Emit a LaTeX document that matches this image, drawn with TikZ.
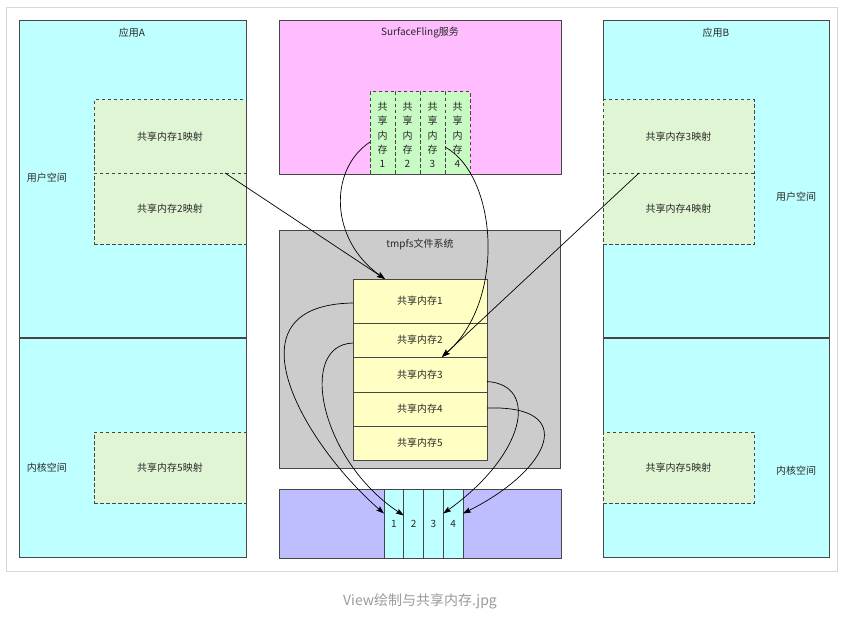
\documentclass[tikz,border=0pt]{standalone}
\usepackage{fontspec}
\setmainfont{Noto Sans CJK SC}
\usetikzlibrary{arrows.meta,calc}
\definecolor{appc}{RGB}{190,255,255}
\definecolor{pinkc}{RGB}{255,188,255}
\definecolor{grayc}{RGB}{204,204,204}
\definecolor{purc}{RGB}{190,190,255}
\definecolor{yelc}{RGB}{255,255,196}
\definecolor{sfgc}{RGB}{200,250,195}
\definecolor{mapc}{RGB}{224,245,212}
\definecolor{linec}{RGB}{70,70,70}
\definecolor{txtc}{RGB}{40,40,40}
\definecolor{framec}{RGB}{215,215,215}
\definecolor{capc}{RGB}{155,155,155}
\tikzset{
  blk/.style={draw=linec, line width=0.8pt, inner sep=0pt, outer sep=0pt, anchor=north west},
  dashbox/.style={blk, line width=1pt, dash pattern=on 3.5pt off 2.5pt, fill=mapc},
  lbl/.style={text=txtc, font=\fontsize{10}{11}\selectfont, inner sep=0pt},
  conn/.style={draw=black, line width=0.7pt, -{Stealth[length=8pt,width=5.5pt,inset=1.5pt]}},
}
\begin{document}
\begin{tikzpicture}[x=1pt,y=-1pt]
\fill[white] (0,0) rectangle (861,623);
\useasboundingbox (0,0) rectangle (861,623);
\node[blk, draw=framec, minimum width=831, minimum height=564] (frame) at (6,7) {};

% App A
\node[blk, fill=appc, minimum width=227, minimum height=318] (uA) at (19,20) {};
\node[blk, fill=appc, minimum width=227, minimum height=219] (kA) at (19,338) {};
\draw[linec, line width=1.4pt] (uA.south west) -- (uA.south east);
\node[lbl] (tA) at (132,33) {应用A};
\node[lbl] (usA) at (47,178) {用户空间};
\node[lbl] (ksA) at (47,468) {内核空间};
\node[dashbox, minimum width=152, minimum height=73] (map1) at (94,100) {};
\node[dashbox, minimum width=152, minimum height=71] (map2) at (94,173) {};
\node[dashbox, minimum width=152, minimum height=71] (map5a) at (94,432) {};
\node[lbl] at (map1) {共享内存1映射};
\node[lbl] at (map2) {共享内存2映射};
\node[lbl] at (map5a) {共享内存5映射};

% App B
\node[blk, fill=appc, minimum width=226, minimum height=318] (uB) at (603,20) {};
\node[blk, fill=appc, minimum width=226, minimum height=219] (kB) at (603,338) {};
\draw[linec, line width=1.4pt] (uB.south west) -- (uB.south east);
\node[lbl] (tB) at (716,33) {应用B};
\node[lbl] (usB) at (796,197) {用户空间};
\node[lbl] (ksB) at (796,471) {内核空间};
\node[dashbox, minimum width=151, minimum height=73] (map3) at (603,100) {};
\node[dashbox, minimum width=151, minimum height=71] (map4) at (603,173) {};
\node[dashbox, minimum width=151, minimum height=71] (map5b) at (603,432) {};
\node[lbl] at (map3) {共享内存3映射};
\node[lbl] at (map4) {共享内存4映射};
\node[lbl] at (map5b) {共享内存5映射};

% SurfaceFling
\node[blk, fill=pinkc, minimum width=282, minimum height=154] (sf) at (279,20) {};
\node[lbl] (tsf) at (420,33) {SurfaceFling服务};
\foreach \i/\xx in {1/370,2/395,3/420,4/445}{
  \node[dashbox, fill=sfgc, minimum width=25, minimum height=82] (c\i) at (\xx,92) {};
  \node[lbl, align=center, font=\fontsize{10}{14.3}\selectfont] at ([yshift=-2]c\i.center) {共\\享\\内\\存\\\i};
}

% tmpfs
\node[blk, fill=grayc, minimum width=281, minimum height=238] (tmp) at (279,230) {};
\node[lbl] (ttmp) at (420,244) {tmpfs文件系统};
\node[blk, fill=yelc, minimum width=134, minimum height=44] (r1) at (353,279) {};
\node[blk, fill=yelc, minimum width=134, minimum height=34] (r2) at (353,323) {};
\node[blk, fill=yelc, minimum width=134, minimum height=35] (r3) at (353,357) {};
\node[blk, fill=yelc, minimum width=134, minimum height=34] (r4) at (353,392) {};
\node[blk, fill=yelc, minimum width=134, minimum height=34] (r5) at (353,426) {};
\foreach \i in {1,...,5}{ \node[lbl] at (r\i) {共享内存\i}; }

% bottom buffer
\node[blk, fill=purc, minimum width=282, minimum height=69] (pur) at (279,489) {};
\foreach \i/\xx in {1/384,2/403.75,3/423.5,4/443.25}{
  \node[blk, fill=appc, line width=1pt, minimum width=19.75, minimum height=69] (b\i) at (\xx,489) {};
  \node[lbl] at (b\i) {\i};
}

% connectors
\draw[conn] ([xshift=55]map1.south) -- ([xshift=-35]r1.north);
\draw[conn] ([xshift=-39.5]map3.south) -- ([xshift=22]r3.north);
\draw[conn] ([yshift=-9]c1.west) .. controls (328,170) and (330,240) .. ([xshift=-35]r1.north);
\draw[conn] ([yshift=-14]c4.west) .. controls (497,175) and (507,300) .. ([xshift=22]r3.north);
\draw[conn] ([yshift=-2]r1.west) .. controls (222,305) and (305,445) .. ([yshift=10]b1.west);
\draw[conn] ([yshift=-3]r2.west) .. controls (297,345) and (320,460) .. ([yshift=8]b2.west);
\draw[conn] ([yshift=-7]r3.east) .. controls (540,385) and (525,455) .. ([yshift=10]b4.west);
\draw[conn] ([yshift=1]r4.east) .. controls (580,405) and (550,470) .. ([yshift=10]b4.east);

% caption
\node[text=capc, font=\fontsize{14}{16}\selectfont, inner sep=0pt] (cap) at (420,601) {View绘制与共享内存.jpg};
\end{tikzpicture}
\end{document}
